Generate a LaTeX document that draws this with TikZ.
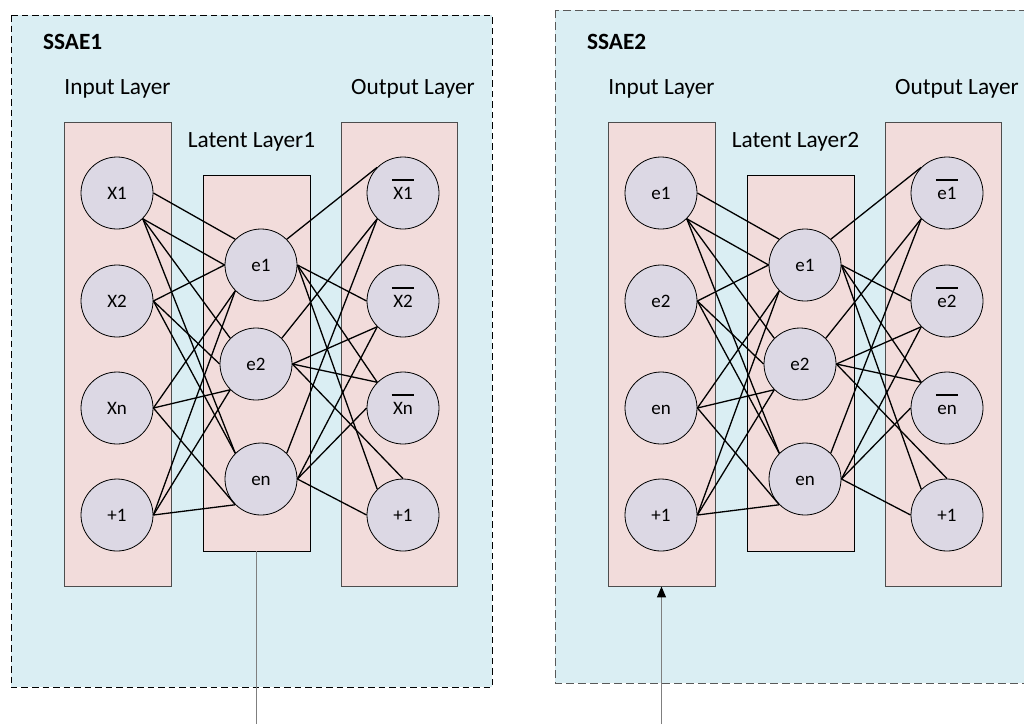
\documentclass[tikz,border=0pt]{standalone}
\usepackage{fontspec}
\setmainfont{Carlito}
\usetikzlibrary{arrows.meta}
\definecolor{panelfill}{HTML}{DAEEF3}
\definecolor{rectfill}{HTML}{F2DCDB}
\definecolor{circfill}{HTML}{DCD8E4}
\definecolor{rectline}{HTML}{4D4D4D}
\definecolor{dashgray}{HTML}{595959}
\definecolor{linkgray}{HTML}{7F7F7F}
\newcommand\ovl[1]{\leavevmode\setbox0\hbox{#1}\rlap{\hspace{-1.5pt}\raisebox{18.5pt}{\rule{\dimexpr\wd0+3pt\relax}{1.2pt}}}\box0}
\tikzset{
  panelbox/.style={fill=panelfill, line width=1pt, dash pattern=on 6.5pt off 4pt},
  layerrect/.style={draw=rectline, fill=rectfill, line width=0.9pt, inner sep=0pt},
  latentrect/.style={draw=black, fill=rectfill, line width=0.9pt, inner sep=0pt},
  neuron/.style={circle, draw=black, fill=circfill, line width=0.8pt, minimum size=72pt,
    inner sep=0pt, font=\fontsize{19}{22}\selectfont, text height=12pt, text depth=0pt},
  lbl/.style={inner sep=0pt, font=\fontsize{23.3}{28}\selectfont},
  ttl/.style={inner sep=0pt, font=\fontsize{23.3}{28}\selectfont\bfseries},
  conn/.style={draw=black, line width=1.3pt},
  link/.style={draw=linkgray, line width=1.3pt}
}
\newcommand\ssaepanel[5]{%
\begin{scope}[xshift=#2pt]
  \node[layerrect, minimum width=107pt, minimum height=464pt] (#1-ir) at (117.5,354) {};
  \node[latentrect, minimum width=107pt, minimum height=376pt] (#1-lr) at (256.5,363) {};
  \node[layerrect, minimum width=116pt, minimum height=464pt] (#1-or) at (399,354) {};
  \node[ttl, anchor=base west] (#1-title) at (43,49) {#3};
  \node[lbl, anchor=base] (#1-inl) at (117.5,94) {Input Layer};
  \node[lbl, anchor=base] (#1-outl) at (413,94) {Output Layer};
  \node[lbl, anchor=base] (#1-latl) at (251.5,147) {#4};
  \node[neuron] (#1-i1) at (117,193) {#51};
  \node[neuron] (#1-i2) at (117,301) {#52};
  \node[neuron] (#1-i3) at (117,408) {#5n};
  \node[neuron] (#1-i4) at (117,515) {+1};
  \node[neuron] (#1-l1) at (261,265) {e1};
  \node[neuron] (#1-l2) at (256,364) {e2};
  \node[neuron] (#1-l3) at (261,479) {en};
  \node[neuron] (#1-o1) at (403,193) {\ovl{#51}};
  \node[neuron] (#1-o2) at (403,301) {\ovl{#52}};
  \node[neuron] (#1-o3) at (403,408) {\ovl{#5n}};
  \node[neuron] (#1-o4) at (403,515) {+1};
  % input -> latent
  \draw[conn] (#1-i1.east) -- (#1-l1.135);
  \draw[conn] (#1-i1.-45) -- (#1-l1.west);
  \draw[conn] (#1-i1.-45) -- (#1-l2.135);
  \draw[conn] (#1-i1.-45) -- (#1-l3.135);
  \draw[conn] (#1-i2.east) -- (#1-l1.west);
  \draw[conn] (#1-i2.east) -- (#1-l2.west);
  \draw[conn] (#1-i2.east) -- (#1-l3.135);
  \draw[conn] (#1-i3.east) -- (#1-l1.-135);
  \draw[conn] (#1-i3.east) -- (#1-l2.-135);
  \draw[conn] (#1-i3.east) -- (#1-l3.-135);
  \draw[conn] (#1-i4.east) -- (#1-l1.-135);
  \draw[conn] (#1-i4.east) -- (#1-l2.-135);
  \draw[conn] (#1-i4.east) -- (#1-l3.-135);
  % latent -> output
  \draw[conn] (#1-l1.45) -- (#1-o1.135);
  \draw[conn] (#1-l2.45) -- (#1-o1.-135);
  \draw[conn] (#1-l3.45) -- (#1-o1.-135);
  \draw[conn] (#1-l1.east) -- (#1-o2.west);
  \draw[conn] (#1-l2.east) -- (#1-o2.-135);
  \draw[conn] (#1-l3.east) -- (#1-o2.-135);
  \draw[conn] (#1-l1.east) -- (#1-o3.135);
  \draw[conn] (#1-l2.east) -- (#1-o3.135);
  \draw[conn] (#1-l3.east) -- (#1-o3.west);
  \draw[conn] (#1-l1.east) -- (#1-o4.135);
  \draw[conn] (#1-l2.east) -- (#1-o4.north);
  \draw[conn] (#1-l3.east) -- (#1-o4.west);
\end{scope}}
\begin{document}
\begin{tikzpicture}[x=1pt,y=-1pt]
  \clip (0,0) rectangle (1024,724);
  \fill[white] (0,0) rectangle (1024,724);
  \draw[panelbox, draw=black] (11,15) rectangle (492,687);
  \draw[panelbox, draw=dashgray, dash pattern=on 8pt off 4pt] (555,10) rectangle (1036,683);
  \ssaepanel{p1}{0}{SSAE1}{Latent Layer1}{X}
  \ssaepanel{p2}{544}{SSAE2}{Latent Layer2}{e}
  \coordinate (c1) at (256.5,724);
  \coordinate (c2) at (661.5,724);
  \draw[link] (p1-lr.south) -- (c1);
  \draw[link, -{Triangle[length=11pt,width=9pt,color=black]}] (c2) -- (p2-ir.south);
\end{tikzpicture}
\end{document}
